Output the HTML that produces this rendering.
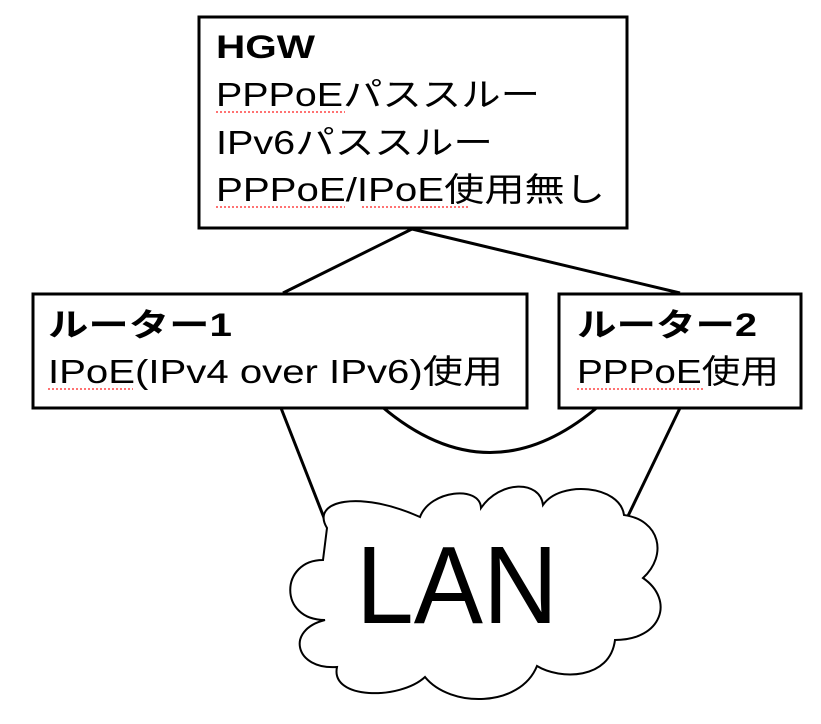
<!DOCTYPE html>
<html><head><meta charset="utf-8"><style>
html,body{margin:0;padding:0;background:#fff;}
svg{display:block}
text{font-family:"Liberation Sans","Noto Sans CJK JP",sans-serif;fill:#000}
</style></head><body>
<svg width="821" height="724" viewBox="0 0 821 724" xmlns="http://www.w3.org/2000/svg">
<g stroke="#000" stroke-width="3" fill="none">
<line x1="412" y1="229" x2="283" y2="293"/>
<line x1="412" y1="229" x2="680" y2="293"/>
<line x1="281" y1="408" x2="328" y2="528"/>
<line x1="680" y1="408" x2="628" y2="516"/>
<path d="M380 405 Q490 500 600 405"/>
<rect x="199" y="17" width="428" height="211" fill="#fff"/>
<rect x="33" y="294" width="494" height="114" fill="#fff"/>
<rect x="559" y="294" width="242" height="114" fill="#fff"/>
</g>
<path d="M327 528 C310 500 360 490 420 517 C430 490 480 485 481 508 C500 480 540 480 543 505 C560 480 620 485 624 515 C660 520 668 555 643 578 C675 600 662 640 615 640 C610 680 560 680 537 666 C520 708 450 708 425 677 C400 700 330 700 337 667 C295 670 285 630 325 620 C278 620 280 560 323 560 Z" fill="#fff" stroke="#000" stroke-width="2"/>
<text x="356" y="623" font-size="110" textLength="202" lengthAdjust="spacingAndGlyphs">LAN</text>
<text x="216" y="58" font-size="32" font-weight="bold" textLength="99" lengthAdjust="spacingAndGlyphs">HGW</text>
<text x="216" y="106" font-size="33" textLength="324" lengthAdjust="spacingAndGlyphs">PPPoEパススルー</text>
<text x="216" y="154" font-size="33" textLength="277" lengthAdjust="spacingAndGlyphs">IPv6パススルー</text>
<text x="216" y="201" font-size="33" textLength="389" lengthAdjust="spacingAndGlyphs">PPPoE/IPoE使用無し</text>
<text x="48" y="336" font-size="32" font-weight="bold" textLength="184" lengthAdjust="spacingAndGlyphs">ルーター1</text>
<text x="48" y="383" font-size="33" textLength="455" lengthAdjust="spacingAndGlyphs">IPoE(IPv4 over IPv6)使用</text>
<text x="577" y="336" font-size="32" font-weight="bold" textLength="180" lengthAdjust="spacingAndGlyphs">ルーター2</text>
<text x="577" y="383" font-size="33" textLength="202" lengthAdjust="spacingAndGlyphs">PPPoE使用</text>
<g stroke="#f44" stroke-width="1.5" stroke-dasharray="2 2">
<line x1="216" y1="112" x2="345" y2="112"/>
<line x1="216" y1="207" x2="345" y2="207"/>
<line x1="362" y1="207" x2="468" y2="207"/>
<line x1="48" y1="389" x2="133" y2="389"/>
<line x1="577" y1="389" x2="705" y2="389"/>
</g>
</svg>
</body></html>
